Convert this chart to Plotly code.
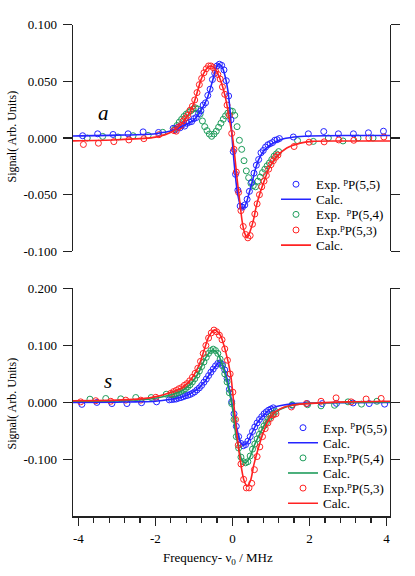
import plotly.graph_objects as go

# ---------------- data ----------------
# Top panel (a)
a_calc55_x = [-4.14, -3.0, -2.0, -1.5, -1.2, -1.0, -0.82, -0.65, -0.52, -0.43, -0.37, -0.3, -0.26, -0.18, -0.12, -0.07, -0.03, 0.0, 0.06, 0.12, 0.2, 0.27, 0.36, 0.43, 0.51, 0.6, 0.68, 0.81, 0.98, 1.24, 1.6, 2.0, 3.0, 4.09]
a_calc55_y = [0.0018, 0.0025, 0.0038, 0.0072, 0.012, 0.016, 0.024, 0.0355, 0.050, 0.061, 0.065, 0.064, 0.062, 0.053, 0.042, 0.027, 0.010, -0.004, -0.028, -0.046, -0.059, -0.0625, -0.057, -0.049, -0.039, -0.027, -0.019, -0.0115, -0.006, -0.0015, 0.0009, 0.0018, 0.0022, 0.0022]

a_calc53_x = [-4.14, -3.0, -2.0, -1.55, -1.3, -1.12, -1.0, -0.9, -0.82, -0.73, -0.61, -0.5, -0.4, -0.3, -0.2, -0.12, -0.06, 0.0, 0.06, 0.12, 0.19, 0.25, 0.31, 0.38, 0.45, 0.54, 0.62, 0.73, 0.86, 0.98, 1.16, 1.41, 1.76, 2.06, 3.0, 4.09]
a_calc53_y = [-0.0025, -0.0015, 0.0008, 0.006, 0.0135, 0.022, 0.031, 0.042, 0.051, 0.058, 0.0632, 0.0625, 0.058, 0.050, 0.038, 0.025, 0.013, 0.0015, -0.016, -0.036, -0.056, -0.073, -0.083, -0.088, -0.083, -0.073, -0.060, -0.047, -0.0345, -0.0245, -0.016, -0.0088, -0.0045, -0.003, -0.0027, -0.0026]

a_exp55_x = [-3.89, -3.50, -3.10, -2.71, -2.32, -1.92,
             -1.54, -1.48, -1.42, -1.36, -1.30, -1.24, -1.18, -1.12, -1.06, -1.00, -0.94, -0.88, -0.82, -0.76, -0.70, -0.64, -0.58, -0.52, -0.46, -0.40, -0.34, -0.28, -0.22, -0.16, -0.10, -0.04, 0.02, 0.08, 0.14, 0.20, 0.26, 0.32, 0.38, 0.44, 0.50, 0.56, 0.62, 0.68, 0.74, 0.80, 0.86, 0.92, 0.98, 1.04, 1.10, 1.16, 1.22,
             1.58, 1.97, 2.37, 2.75, 3.14, 3.53, 3.92]
a_exp55_y = [0.0020, 0.0037, 0.0031, 0.0037, 0.0054, 0.0049,
             0.0085, 0.0072, 0.0095, 0.0090, 0.0115, 0.0105, 0.0130, 0.0140, 0.0145, 0.0170, 0.0180, 0.0215, 0.0240, 0.0290, 0.0310, 0.0375, 0.0430, 0.0515, 0.0570, 0.0635, 0.0650, 0.0640, 0.0600, 0.0505, 0.0370, 0.0160, -0.0120, -0.0320, -0.0460, -0.0600, -0.0610, -0.0590, -0.0540, -0.0470, -0.0390, -0.0310, -0.0240, -0.0190, -0.0130, -0.0110, -0.0080, -0.0060, -0.0050, -0.0040, -0.0020, -0.0015, -0.0005,
             0.0009, 0.0037, 0.0057, 0.0037, 0.0037, 0.0046, 0.0060]

a_exp54_x = [-3.77, -3.37, -2.97, -2.58, -2.19, -1.81,
             -1.50, -1.44, -1.38, -1.32, -1.26, -1.20, -1.14, -1.08, -1.02, -0.96, -0.90, -0.84, -0.78, -0.72, -0.66, -0.60, -0.54, -0.48, -0.42, -0.36, -0.30, -0.24, -0.18, -0.12, -0.06, 0.00, 0.06, 0.12, 0.18, 0.24, 0.30, 0.36, 0.42, 0.48, 0.54, 0.60, 0.66, 0.72, 0.78, 0.84, 0.90, 0.96, 1.02, 1.08, 1.14, 1.20,
             1.69, 2.10, 2.49, 2.87, 3.26, 3.65]
a_exp54_y = [0.0000, 0.0014, 0.0009, 0.0020, 0.0023, 0.0050,
             0.0080, 0.0110, 0.0140, 0.0165, 0.0190, 0.0210, 0.0225, 0.0240, 0.0255, 0.0265, 0.0255, 0.0210, 0.0150, 0.0100, 0.0065, 0.0035, 0.0015, 0.0035, 0.0060, 0.0095, 0.0130, 0.0165, 0.0195, 0.0220, 0.0240, 0.0235, 0.0200, 0.0100, -0.0020, -0.0100, -0.0200, -0.0290, -0.0350, -0.0400, -0.0420, -0.0430, -0.0380, -0.0345, -0.0305, -0.0275, -0.0245, -0.0220, -0.0190, -0.0160, -0.0140, -0.0120,
             -0.0023, -0.0030, 0.0000, -0.0026, 0.0000, 0.0000]

a_exp53_x = [-3.87, -3.48, -3.08, -2.69, -2.30, -1.91,
             -1.52, -1.46, -1.40, -1.34, -1.28, -1.22, -1.16, -1.10, -1.04, -0.98, -0.92, -0.86, -0.80, -0.74, -0.68, -0.62, -0.56, -0.50, -0.44, -0.38, -0.32, -0.26, -0.20, -0.14, -0.08, -0.02, 0.04, 0.10, 0.16, 0.22, 0.28, 0.34, 0.40, 0.46, 0.52, 0.58, 0.64, 0.70, 0.76, 0.82, 0.88, 0.94, 1.00, 1.06, 1.12, 1.18,
             1.60, 1.99, 2.38, 2.76, 3.15, 3.54, 3.93]
a_exp53_y = [-0.0057, -0.0046, -0.0032, -0.0017, -0.0006, 0.0029,
             0.0065, 0.0060, 0.0095, 0.0110, 0.0150, 0.0175, 0.0200, 0.0245, 0.0280, 0.0335, 0.0400, 0.0470, 0.0525, 0.0575, 0.0610, 0.0635, 0.0635, 0.0620, 0.0590, 0.0560, 0.0520, 0.0450, 0.0385, 0.0290, 0.0200, 0.0040, -0.0100, -0.0300, -0.0480, -0.0640, -0.0780, -0.0850, -0.0880, -0.0860, -0.0760, -0.0670, -0.0580, -0.0500, -0.0430, -0.0380, -0.0330, -0.0275, -0.0235, -0.0200, -0.0170, -0.0150,
             -0.0075, -0.0037, -0.0034, -0.0017, -0.0020, 0.0000, 0.0009]

# Bottom panel (s)
s_calc55_x = [-4.14, -3.0, -2.5, -2.0, -1.64, -1.29, -0.95, -0.73, -0.56, -0.43, -0.35, -0.26, -0.16, -0.06, 0.0, 0.04, 0.12, 0.21, 0.28, 0.38, 0.51, 0.64, 0.81, 1.03, 1.33, 1.76, 2.5, 4.09]
s_calc55_y = [0.0, 0.0005, 0.001, 0.002, 0.005, 0.010, 0.021, 0.036, 0.053, 0.064, 0.070, 0.067, 0.047, 0.016, -0.006, -0.019, -0.048, -0.070, -0.075, -0.071, -0.053, -0.036, -0.022, -0.010, -0.0045, -0.0017, -0.0005, 0.0]

s_calc54_x = [-4.14, -3.0, -2.15, -1.64, -1.29, -1.04, -0.86, -0.69, -0.52, -0.42, -0.35, -0.22, -0.09, 0.0, 0.08, 0.17, 0.25, 0.34, 0.45, 0.55, 0.68, 0.81, 0.98, 1.24, 1.58, 2.0, 3.0, 4.09]
s_calc54_y = [0.002, 0.003, 0.006, 0.0125, 0.021, 0.036, 0.055, 0.079, 0.092, 0.089, 0.082, 0.056, 0.021, -0.010, -0.053, -0.082, -0.102, -0.106, -0.0965, -0.078, -0.059, -0.042, -0.025, -0.012, -0.0045, -0.0017, 0.0, 0.001]

s_calc53_x = [-4.14, -3.0, -2.15, -1.64, -1.29, -1.04, -0.86, -0.73, -0.61, -0.47, -0.38, -0.30, -0.18, -0.05, 0.0, 0.06, 0.12, 0.21, 0.30, 0.38, 0.47, 0.55, 0.64, 0.77, 0.90, 1.07, 1.33, 1.58, 2.0, 3.0, 4.09]
s_calc53_y = [0.003, 0.004, 0.008, 0.0167, 0.027, 0.044, 0.067, 0.093, 0.116, 0.127, 0.124, 0.116, 0.090, 0.050, 0.022, -0.020, -0.059, -0.105, -0.137, -0.147, -0.137, -0.111, -0.088, -0.059, -0.036, -0.019, -0.0086, -0.0045, -0.0017, 0.001, 0.002]

s_exp55_x = [-3.91, -3.52, -3.13, -2.74, -2.36, -1.97,
             -1.64, -1.58, -1.52, -1.46, -1.40, -1.34, -1.28, -1.22, -1.16, -1.10, -1.04, -0.98, -0.92, -0.86, -0.80, -0.74, -0.68, -0.62, -0.56, -0.50, -0.44, -0.38, -0.32, -0.26, -0.20, -0.14, -0.08, -0.02, 0.04, 0.10, 0.16, 0.22, 0.28, 0.34, 0.40, 0.46, 0.52, 0.58, 0.64, 0.70, 0.76, 0.82, 0.88, 0.94, 1.00, 1.06,
             1.55, 1.94, 2.33, 2.70, 3.13, 3.55, 3.95]
s_exp55_y = [-0.0034, 0.0000, -0.0020, -0.0020, -0.0005, 0.0010,
             0.0045, 0.0050, 0.0055, 0.0060, 0.0075, 0.0085, 0.0100, 0.0115, 0.0125, 0.0140, 0.0160, 0.0185, 0.0220, 0.0255, 0.0300, 0.0355, 0.0410, 0.0470, 0.0530, 0.0585, 0.0640, 0.0685, 0.0695, 0.0665, 0.0570, 0.0420, 0.0230, 0.0010, -0.0200, -0.0420, -0.0600, -0.0720, -0.0760, -0.0740, -0.0680, -0.0600, -0.0510, -0.0430, -0.0360, -0.0300, -0.0250, -0.0200, -0.0165, -0.0135, -0.0115, -0.0095,
             -0.0050, -0.0020, -0.0020, -0.0017, -0.0010, -0.0020, -0.0030]

s_exp54_x = [-3.70, -3.29, -2.90, -2.51, -2.11, -1.72,
             -1.58, -1.52, -1.46, -1.40, -1.34, -1.28, -1.22, -1.16, -1.10, -1.04, -0.98, -0.92, -0.86, -0.80, -0.74, -0.68, -0.62, -0.56, -0.50, -0.44, -0.38, -0.32, -0.26, -0.20, -0.14, -0.08, -0.02, 0.04, 0.10, 0.16, 0.22, 0.28, 0.34, 0.40, 0.46, 0.52, 0.58, 0.64, 0.70, 0.76, 0.82, 0.88, 0.94, 1.00, 1.06, 1.12,
             1.55, 1.95, 2.30, 2.65, 3.00, 3.35, 3.75]
s_exp54_y = [0.0057, 0.0069, 0.0063, 0.0086, 0.0086, 0.0144,
             0.0135, 0.0140, 0.0160, 0.0175, 0.0195, 0.0215, 0.0240, 0.0275, 0.0310, 0.0360, 0.0415, 0.0480, 0.0550, 0.0630, 0.0710, 0.0790, 0.0860, 0.0910, 0.0935, 0.0910, 0.0860, 0.0760, 0.0640, 0.0500, 0.0360, 0.0170, -0.0020, -0.0300, -0.0600, -0.0800, -0.0960, -0.1040, -0.1060, -0.1040, -0.0940, -0.0820, -0.0730, -0.0640, -0.0560, -0.0480, -0.0410, -0.0350, -0.0290, -0.0240, -0.0200, -0.0160,
             -0.0040, -0.0040, -0.0060, -0.0050, 0.0010, -0.0030, 0.0020]

s_exp53_x = [-3.94, -3.55, -3.16, -2.77, -2.38, -1.99,
             -1.60, -1.53, -1.46, -1.39, -1.32, -1.25, -1.18, -1.11, -1.04, -0.97, -0.90, -0.83, -0.76, -0.69, -0.62, -0.55, -0.48, -0.41, -0.34, -0.27, -0.20, -0.13, -0.06, 0.01, 0.08, 0.15, 0.22, 0.29, 0.36, 0.43, 0.50, 0.57, 0.64, 0.71, 0.78, 0.85, 0.92, 0.99, 1.06, 1.13,
             1.53, 1.92, 2.30, 2.69, 3.08, 3.47, 3.86]
s_exp53_y = [0.001, 0.003, 0.002, 0.004, 0.004, 0.009,
             0.016, 0.019, 0.021, 0.024, 0.026, 0.030, 0.033, 0.038, 0.044, 0.051, 0.060, 0.072, 0.086, 0.100, 0.113, 0.122, 0.127, 0.124, 0.118, 0.110, 0.094, 0.074, 0.050, 0.018, -0.030, -0.075, -0.108, -0.135, -0.150, -0.150, -0.142, -0.118, -0.095, -0.078, -0.060, -0.046, -0.036, -0.028, -0.022, -0.020,
             -0.008, -0.002, 0.002, 0.008, 0.001, 0.006, 0.007]

# Axis ticks
x_tickvals = [-4, -2, 0, 2, 4]
x_ticktext = ["-4", "-2", "0", "2", "4"]
a_tickvals = [-0.1, -0.05, 0.0, 0.05, 0.1]
a_ticktext = ["-0.100", "-0.050", "0.000", "0.050", "0.100"]
s_tickvals = [-0.1, 0.0, 0.1, 0.2]
s_ticktext = ["-0.100", "0.000", "0.100", "0.200"]

# Legend labels
lbl_a55 = "Exp. <sup>p</sup>P(5,5)"
lbl_a54 = "Exp.\u00a0 <sup>p</sup>P(5,4)"
lbl_a53 = "Exp.<sup>p</sup>P(5,3)"
lbl_s55 = "Exp. <sup>p</sup>P(5,5)"
lbl_s54 = "Exp.<sup>p</sup>P(5,4)"
lbl_s53 = "Exp.<sup>p</sup>P(5,3)"
lbl_calc = "Calc."

# ---------------- styling ----------------
W, H = 415, 576
FONT = "Liberation Serif"
COL = {"blue": "#2424ff", "green": "#1f9d5c", "red": "#ff2222"}
AXC = "#222222"


def pxx(px):
    return px / W


def pyy(py):
    return 1 - py / H


fig = go.Figure()
legends = {}
legend_count = [0]


def new_legend(left_px, row_py):
    legend_count[0] += 1
    key = "legend" if legend_count[0] == 1 else "legend%d" % legend_count[0]
    legends[key] = dict(x=pxx(left_px), y=pyy(row_py), xanchor="left", yanchor="middle",
                        bgcolor="rgba(0,0,0,0)", borderwidth=0,
                        font=dict(family=FONT, size=13, color="black"))
    return key


def add_exp(x, y, color, xa, ya, name, lg):
    fig.add_trace(go.Scatter(x=x, y=y, mode="markers", name=name, xaxis=xa, yaxis=ya,
                             marker=dict(symbol="circle-open", size=6, color=COL[color],
                                         line=dict(width=1, color=COL[color])),
                             showlegend=lg is not None, legend=lg))


def add_calc(x, y, color, xa, ya, name, lg):
    fig.add_trace(go.Scatter(x=x, y=y, mode="lines", name=name, xaxis=xa, yaxis=ya,
                             line=dict(color=COL[color], width=1.6, shape="spline", smoothing=0.8),
                             showlegend=lg is not None, legend=lg))


# legend rows (pixel rows of the reference)
A_LEFT, S_LEFT = 276, 283
add_exp(a_exp54_x, a_exp54_y, "green", "x", "y", lbl_a54, new_legend(A_LEFT, 213))
add_exp(a_exp55_x, a_exp55_y, "blue", "x", "y", lbl_a55, new_legend(A_LEFT, 182))
add_exp(a_exp53_x, a_exp53_y, "red", "x", "y", lbl_a53, new_legend(A_LEFT, 229))
add_calc(a_calc55_x, a_calc55_y, "blue", "x", "y", lbl_calc, new_legend(A_LEFT, 197.5))
add_calc(a_calc53_x, a_calc53_y, "red", "x", "y", lbl_calc, new_legend(A_LEFT, 244.5))

add_exp(s_exp55_x, s_exp55_y, "blue", "x2", "y2", lbl_s55, new_legend(S_LEFT, 432))
add_exp(s_exp54_x, s_exp54_y, "green", "x2", "y2", lbl_s54, new_legend(S_LEFT, 463))
add_exp(s_exp53_x, s_exp53_y, "red", "x2", "y2", lbl_s53, new_legend(S_LEFT, 494))
add_calc(s_calc55_x, s_calc55_y, "blue", "x2", "y2", lbl_calc, new_legend(S_LEFT, 447.5))
add_calc(s_calc54_x, s_calc54_y, "green", "x2", "y2", lbl_calc, new_legend(S_LEFT, 478.5))
add_calc(s_calc53_x, s_calc53_y, "red", "x2", "y2", lbl_calc, new_legend(S_LEFT, 509.5))

xdom = [pxx(73), pxx(390)]
xrange_ = [-4.14, 4.09]
yax_common = dict(showline=True, linecolor=AXC, linewidth=1.3, mirror="ticks",
                  ticks="outside", ticklen=9, tickwidth=1.3, tickcolor=AXC,
                  showgrid=False, zeroline=False, tickmode="array", ticklabelstandoff=3,
                  tickfont=dict(family=FONT, size=13, color="black"))

annotations = []
for py in (133, 407):
    annotations.append(dict(xref="paper", yref="paper", x=pxx(12), y=pyy(py), text="Signal( Arb. Units)",
                            textangle=-90, showarrow=False, xanchor="center", yanchor="middle",
                            font=dict(family=FONT, size=12, color="black")))
annotations.append(dict(xref="paper", yref="paper", x=pxx(217.5), y=pyy(566),
                        text="Frequency- \u03bd<sub>0</sub> / MHz", showarrow=False,
                        xanchor="center", yanchor="middle", font=dict(family=FONT, size=13, color="black")))
annotations.append(dict(xref="x", yref="y", x=-3.36, y=0.022, text="<i>a</i>", showarrow=False,
                        font=dict(family=FONT, size=21, color="black")))
annotations.append(dict(xref="x2", yref="y2", x=-3.23, y=0.037, text="<i>s</i>", showarrow=False,
                        font=dict(family=FONT, size=21, color="black")))

fig.update_layout(
    width=W, height=H, autosize=False,
    margin=dict(l=0, r=0, t=0, b=0),
    paper_bgcolor="white", plot_bgcolor="white",
    font=dict(family=FONT, size=13, color="black"),
    showlegend=True,
    xaxis=dict(domain=xdom, range=xrange_, visible=False, anchor="y"),
    yaxis=dict(domain=[pyy(251), pyy(18)], range=[-0.1, 0.1], tickvals=a_tickvals, ticktext=a_ticktext,
               anchor="x", **yax_common),
    xaxis2=dict(domain=xdom, range=xrange_, anchor="y2", showline=True, linecolor=AXC, linewidth=1.3,
                ticks="outside", ticklen=8, tickwidth=1.3, tickcolor=AXC, showgrid=False, zeroline=False,
                tickmode="array", tickvals=x_tickvals, ticktext=x_ticktext, ticklabelstandoff=2,
                tickfont=dict(family=FONT, size=13, color="black"),
                minor=dict(tickmode="linear", tick0=-4, dtick=0.4, ticks="outside", ticklen=5,
                           tickwidth=1.3, tickcolor=AXC, showgrid=False)),
    yaxis2=dict(domain=[pyy(523), pyy(289)], range=[-0.2, 0.2], tickvals=s_tickvals, ticktext=s_ticktext,
                anchor="x2", **yax_common),
    annotations=annotations,
    **legends,
)

fig.write_html("out.html", config={"staticPlot": True},
               post_script="document.body.style.margin='0px';")
